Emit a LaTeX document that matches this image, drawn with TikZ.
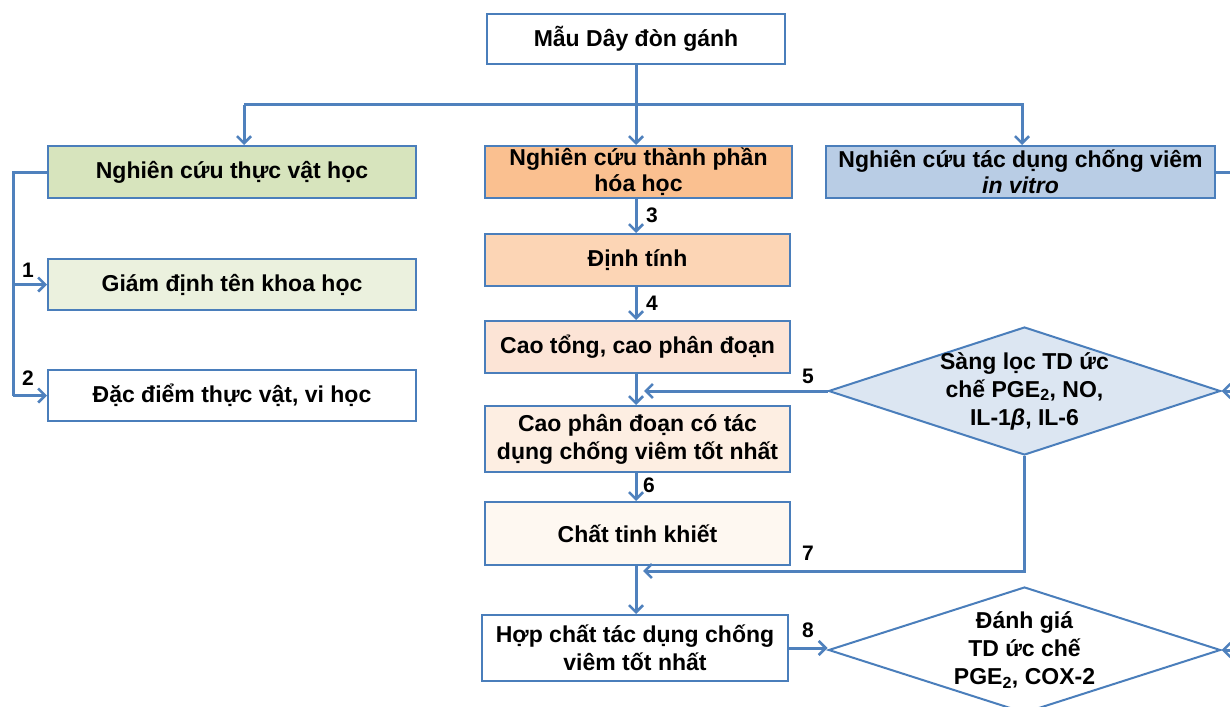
\documentclass[tikz,border=0pt]{standalone}
\usepackage{fontspec}
\setmainfont{Liberation Sans}
\usetikzlibrary{shapes.geometric,arrows.meta}
\definecolor{lineblue}{HTML}{4F81BD}
\definecolor{edgeblue}{HTML}{4A7EBB}
\definecolor{gfill}{HTML}{D7E4BD}
\definecolor{glight}{HTML}{EBF1DE}
\definecolor{ofill}{HTML}{FAC090}
\definecolor{pfill}{HTML}{FCD5B5}
\definecolor{p2fill}{HTML}{FCE4D6}
\definecolor{p3fill}{HTML}{FDEEE2}
\definecolor{p4fill}{HTML}{FEF8F1}
\definecolor{bfill}{HTML}{B9CDE5}
\definecolor{dfill}{HTML}{DCE6F2}
\tikzset{
  box/.style={draw=edgeblue, line width=2pt, rectangle, inner sep=0pt, align=center, font=\bfseries\fontsize{23}{26}\selectfont},
  dia/.style={draw=edgeblue, line width=2pt, diamond, inner sep=0pt},
  diatext/.style={align=center, font=\bfseries\fontsize{23}{28}\selectfont},
  conn/.style={draw=lineblue, line width=3pt, -{Straight Barb[length=7pt,width=14pt,line width=2.6pt]}},
  plain/.style={draw=lineblue, line width=3pt},
  num/.style={font=\bfseries\fontsize{21}{24}\selectfont}
}
\begin{document}
\begin{tikzpicture}[x=1pt,y=-1pt]
\useasboundingbox (0,0) rectangle (1230,706);
\clip (0,0) rectangle (1230,706);
\fill[white] (0,0) rectangle (1230,706);
% boxes
\node[box, fill=white, minimum width=298, minimum height=50] (top) at (636,39) {Mẫu Dây đòn gánh};
\node[box, fill=gfill, minimum width=368, minimum height=52] (green) at (232,172) {Nghiên cứu thực vật học};
\node[box, fill=ofill, minimum width=307, minimum height=52] (orange) at (638.5,172) {Nghiên cứu thành phần\\hóa học};
\node[box, fill=bfill, minimum width=389, minimum height=52] (blue) at (1020.5,172) {Nghiên cứu tác dụng chống viêm\\\textit{in vitro}};
\node[box, fill=glight, minimum width=368, minimum height=51] (giam) at (232,284.5) {Giám định tên khoa học};
\node[box, fill=white, minimum width=368, minimum height=51] (dac) at (232,395.5) {Đặc điểm thực vật, vi học};
\node[box, fill=pfill, minimum width=305, minimum height=52] (dinh) at (637.5,260) {Định tính};
\node[box, fill=p2fill, minimum width=305, minimum height=52] (caotong) at (637.5,347) {Cao tổng, cao phân đoạn};
\node[box, fill=p3fill, minimum width=305, minimum height=66, font=\bfseries\fontsize{23}{28}\selectfont] (caophan) at (637.5,439) {Cao phân đoạn có tác\\dụng chống viêm tốt nhất};
\node[box, fill=p4fill, minimum width=305, minimum height=63] (chat) at (637.5,533.5) {Chất tinh khiết};
\node[box, fill=white, minimum width=306, minimum height=66, font=\bfseries\fontsize{23}{28}\selectfont] (hop) at (635,648) {Hợp chất tác dụng chống\\viêm tốt nhất};
% diamonds
\node[dia, fill=dfill, minimum width=392, minimum height=128] (d1) at (1024.5,391) {};
\node[diatext] at (1024.5,391) {Sàng lọc TD ức\\chế PGE\textsubscript{2}, NO,\\IL-1\textit{β}, IL-6};
\node[dia, fill=white, minimum width=392, minimum height=126] (d2) at (1024.5,650) {};
\node[diatext] at (1024.5,650) {Đánh giá\\TD ức chế\\PGE\textsubscript{2}, COX-2};
% top distribution
\coordinate (hl) at (244,105);
\coordinate (hr) at (1022,105);
\coordinate (cx) at (636,0);
\draw[conn] (top.south) -- (top.south |- orange.north);
\draw[conn] (hl) -- (hl |- green.north);
\draw[conn] (hl) -- (hr) -- (hr |- blue.north);
\coordinate (bx) at (1240,172);
\draw[plain] (blue.east) -- (bx);
% left branch
\coordinate (lb) at (13,172);
\draw[plain] (green.west) -- (lb) -- (lb |- dac.west);
\draw[conn] (lb |- giam.west) -- (giam.west);
\draw[conn] (lb |- dac.west) -- (dac.west);
\node[num] at (28,270) {1};
\node[num] at (28,378) {2};
% center column
\draw[conn] (cx |- orange.south) -- (cx |- dinh.north);
\node[num] at (652,215) {3};
\draw[conn] (cx |- dinh.south) -- (cx |- caotong.north);
\node[num] at (652,303) {4};
\draw[conn] (cx |- caotong.south) -- (cx |- caophan.north);
\coordinate (a5) at (644,391);
\draw[conn] (d1.west) -- (a5);
\node[num] at (808,376) {5};
\draw[conn] (cx |- caophan.south) -- (cx |- chat.north);
\node[num] at (649,485) {6};
\draw[conn] (cx |- chat.south) -- (cx |- hop.north);
\coordinate (a7) at (643,571);
\draw[conn] (d1.south) -- (d1.south |- a7) -- (a7);
\node[num] at (808,553) {7};
\draw[conn] (hop.east) -- (hop.east -| d2.west);
\node[num] at (808,630) {8};
% incoming from right
\coordinate (r1) at (1245,391);
\coordinate (r2) at (1245,650);
\draw[conn] (r1) -- (d1.east);
\draw[conn] (r2) -- (d2.east);
\end{tikzpicture}
\end{document}
